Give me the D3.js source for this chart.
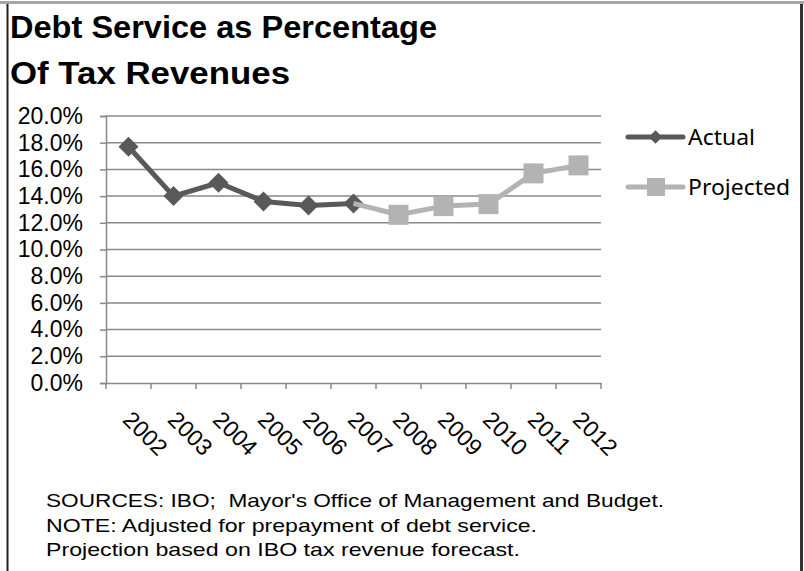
<!DOCTYPE html>
<html>
<head>
<meta charset="utf-8">
<script src="https://cdn.jsdelivr.net/npm/d3@7"></script>
<style>
  body { margin: 0; background: #fff; }
  svg { display: block; }
</style>
</head>
<body>
<svg id="chart"></svg>
<script>
// chart data
const years = ["2002", "2003", "2004", "2005", "2006", "2007", "2008", "2009", "2010", "2011", "2012"];
const actual = [0.177, 0.140, 0.150, 0.136, 0.133, 0.1345, null, null, null, null, null];
const projected = [null, null, null, null, null, 0.1345, 0.126, 0.1325, 0.134, 0.157, 0.163];
const yTicks = [0, 0.02, 0.04, 0.06, 0.08, 0.10, 0.12, 0.14, 0.16, 0.18, 0.20];
const titleLines = ["Debt Service as Percentage", "Of Tax Revenues"];
const notes = [
  "SOURCES: IBO;  Mayor's Office of Management and Budget.",
  "NOTE: Adjusted for prepayment of debt service.",
  "Projection based on IBO tax revenue forecast."
];
const seriesNames = ["Actual", "Projected"];

const width = 804;
const height = 571;
const darkGrey = "#595959";
const lightGrey = "#b3b3b3";
const gridColor = "#898989";
const font = "'Liberation Sans', Arial, sans-serif";

const svg = d3.select("#chart")
  .attr("width", width)
  .attr("height", height);

// frame around the picture
svg.append("rect").attr("x", 0).attr("y", 1).attr("width", width).attr("height", 3).attr("fill", "#a6a6a6");
svg.append("line").attr("x1", 7.5).attr("x2", 7.5).attr("y1", 4).attr("y2", height)
  .attr("stroke", "#222").attr("stroke-width", 2);
svg.append("line").attr("x1", 801.5).attr("x2", 801.5).attr("y1", 4).attr("y2", height)
  .attr("stroke", "#333").attr("stroke-width", 3);

// title
const titleLen = [427, 280];
svg.selectAll("text.title")
  .data(titleLines)
  .enter().append("text")
  .attr("class", "title")
  .attr("x", 10)
  .attr("y", (d, i) => 38 + i * 46)
  .attr("textLength", (d, i) => titleLen[i])
  .attr("lengthAdjust", "spacingAndGlyphs")
  .style("font-family", font)
  .style("font-weight", "bold")
  .style("font-size", "32px")
  .attr("fill", "#000")
  .text(d => d);

// scales
const x = d3.scaleBand().domain(years).range([106, 601]);
const y = d3.scaleLinear().domain([0, 0.2]).range([383, 116]);

// gridlines
svg.append("g")
  .selectAll("line")
  .data(yTicks.filter(t => t > 0))
  .enter().append("line")
  .attr("x1", 106).attr("x2", 601)
  .attr("y1", d => y(d)).attr("y2", d => y(d))
  .attr("stroke", gridColor)
  .attr("stroke-width", 1.5);

// y axis
const yAxis = svg.append("g")
  .attr("transform", "translate(106,0)")
  .call(d3.axisLeft(y).tickValues(yTicks).tickFormat(d3.format(".1%")).tickSize(6).tickPadding(17));
yAxis.select(".domain").attr("stroke", gridColor).attr("stroke-width", 1.5);
yAxis.selectAll(".tick line").attr("stroke", gridColor).attr("stroke-width", 1.5);
yAxis.selectAll(".tick text")
  .style("font-family", font)
  .style("font-size", "23px")
  .attr("fill", "#000");

// x axis
const xAxis = svg.append("g")
  .attr("transform", "translate(0,383)")
  .call(d3.axisBottom(x).tickSize(0).tickSizeOuter(0).tickPadding(0));
xAxis.select(".domain").attr("stroke", gridColor).attr("stroke-width", 1.5);
xAxis.selectAll(".tick text")
  .attr("text-anchor", "start")
  .attr("dy", null)
  .attr("y", 0)
  .attr("dominant-baseline", "hanging")
  .attr("transform", "translate(5,26) rotate(45)")
  .style("font-family", font)
  .style("font-size", "23px")
  .attr("fill", "#000");

// tick marks at category boundaries
const bounds = years.map(d => x(d)).concat([x(years[years.length - 1]) + x.bandwidth()]);
xAxis.append("g")
  .selectAll("line")
  .data(bounds)
  .enter().append("line")
  .attr("x1", d => d).attr("x2", d => d)
  .attr("y1", 0).attr("y2", 6)
  .attr("stroke", gridColor)
  .attr("stroke-width", 1.5);

const cx = d => x(d) + x.bandwidth() / 2;

// lines
const line = d3.line()
  .defined(d => d.v != null)
  .x(d => cx(d.year))
  .y(d => y(d.v));

const actualPts = years.map((year, i) => ({ year, v: actual[i] }));
const projPts = years.map((year, i) => ({ year, v: projected[i] }));

svg.append("path")
  .datum(actualPts)
  .attr("d", line)
  .attr("fill", "none")
  .attr("stroke", darkGrey)
  .attr("stroke-width", 5)
  .attr("stroke-linejoin", "round");

const diamond = d3.symbol().type(d3.symbolSquare).size(200);
svg.append("g")
  .selectAll("path")
  .data(actualPts.filter(d => d.v != null))
  .enter().append("path")
  .attr("d", diamond)
  .attr("transform", d => `translate(${cx(d.year)},${y(d.v)}) rotate(45)`)
  .attr("fill", darkGrey);

svg.append("path")
  .datum(projPts)
  .attr("d", line)
  .attr("fill", "none")
  .attr("stroke", lightGrey)
  .attr("stroke-width", 5)
  .attr("stroke-linejoin", "round");

svg.append("g")
  .selectAll("rect")
  .data(projPts.filter((d, i) => d.v != null && i > 5))
  .enter().append("rect")
  .attr("x", d => cx(d.year) - 10)
  .attr("y", d => y(d.v) - 10)
  .attr("width", 20)
  .attr("height", 20)
  .attr("fill", lightGrey);

// legend
const legend = svg.append("g");
const legY = [137, 187];
const legColor = [darkGrey, lightGrey];
const legLen = [67, 102];
seriesNames.forEach((name, i) => {
  legend.append("line")
    .attr("x1", 628).attr("x2", 683)
    .attr("y1", legY[i]).attr("y2", legY[i])
    .attr("stroke", legColor[i])
    .attr("stroke-width", 5)
    .attr("stroke-linecap", "round");
  if (i === 0) {
    legend.append("path")
      .attr("d", d3.symbol().type(d3.symbolSquare).size(90))
      .attr("transform", `translate(655.5,${legY[i]}) rotate(45)`)
      .attr("fill", legColor[i]);
  } else {
    legend.append("rect")
      .attr("x", 647).attr("y", legY[i] - 9)
      .attr("width", 18).attr("height", 18)
      .attr("fill", legColor[i]);
  }
  legend.append("text")
    .attr("x", 688)
    .attr("y", legY[i] + 8)
    .attr("textLength", legLen[i])
    .attr("lengthAdjust", "spacingAndGlyphs")
    .style("font-family", "'Noto Sans', 'Open Sans', sans-serif")
    .style("font-size", "22px")
    .attr("fill", "#000")
    .text(name);
});

// notes
const noteLen = [618, 491, 474];
svg.selectAll("text.note")
  .data(notes)
  .enter().append("text")
  .attr("class", "note")
  .attr("x", 46)
  .attr("y", (d, i) => 507 + i * 24.5)
  .attr("textLength", (d, i) => noteLen[i])
  .attr("lengthAdjust", "spacingAndGlyphs")
  .style("white-space", "pre")
  .style("font-family", font)
  .style("font-size", "19px")
  .attr("fill", "#000")
  .text(d => d);
</script>
</body>
</html>
